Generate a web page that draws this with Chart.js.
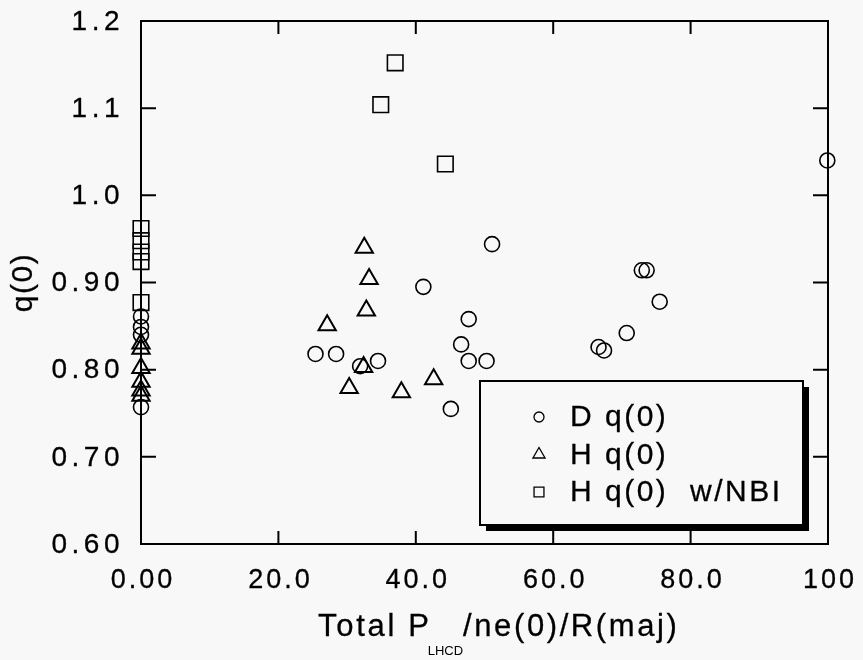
<!DOCTYPE html>
<html>
<head>
<meta charset="utf-8">
<script src="https://cdn.jsdelivr.net/npm/chart.js@4.4.1/dist/chart.umd.min.js"></script>
<style>
  html, body { margin: 0; padding: 0; background: #f8f8f8; }
  #wrap { width: 863px; height: 660px; }
</style>
</head>
<body>
<div id="wrap"><canvas id="myChart" width="863" height="660"></canvas></div>
<script>
'use strict'
// data
const dX = [0, 0, 0, 0, 25.4, 28.4, 31.9, 34.5, 41.1, 45.1, 46.6, 47.7, 47.7, 50.3, 51.1, 66.6, 67.4, 70.7, 72.9, 73.6, 75.5, 99.9];
const dY = [0.861, 0.849, 0.840, 0.757, 0.818, 0.818, 0.804, 0.810, 0.895, 0.755, 0.829, 0.858, 0.810, 0.810, 0.944, 0.826, 0.822, 0.842, 0.914, 0.914, 0.878, 1.040];

const hX = [0, 0, 0, 0, 0, 0, 27.1, 30.3, 32.4, 32.5, 32.8, 33.2, 37.9, 42.6];
const hY = [0.830, 0.824, 0.802, 0.786, 0.776, 0.770, 0.851, 0.779, 0.803, 0.940, 0.868, 0.904, 0.774, 0.789];

const nbiX = [0, 0, 0, 0, 0, 34.9, 37.0, 44.3];
const nbiY = [0.962, 0.948, 0.935, 0.924, 0.877, 1.104, 1.152, 1.036];

const xTicks = [0, 20, 40, 60, 80, 100];
const xTickLabels = ['0.00', '20.0', '40.0', '60.0', '80.0', '100'];
const yTicks = [0.6, 0.7, 0.8, 0.9, 1.0, 1.1, 1.2];
const yTickLabels = ['0.60', '0.70', '0.80', '0.90', '1.0', '1.1', '1.2'];

const seriesNames = ['D q(0)', 'H q(0)', 'H q(0)  w/NBI'];

function toPoints(xs, ys) {
  return xs.map((x, i) => ({ x: x, y: ys[i] }));
}

const FONT = '"Liberation Sans", Arial, sans-serif';

// text a bit heavier, like the scanned original
function heavyText(ctx, text, x, y) {
  ctx.fillText(text, x, y);
  ctx.strokeText(text, x, y);
}

// frame, inward ticks, tick labels, axis titles, legend
const framePlugin = {
  id: 'frame',
  beforeDatasetsDraw(chart) {
    const ctx = chart.ctx;
    const ca = chart.chartArea;
    const xs = chart.scales.x, ys = chart.scales.y;
    ctx.save();
    ctx.strokeStyle = '#000';
    ctx.lineWidth = 2;
    ctx.strokeRect(ca.left, ca.top, ca.right - ca.left, ca.bottom - ca.top);

    // ticks on all four sides, pointing in
    ctx.beginPath();
    xTicks.forEach(v => {
      const px = xs.getPixelForValue(v);
      ctx.moveTo(px, ca.bottom); ctx.lineTo(px, ca.bottom - 13);
      ctx.moveTo(px, ca.top); ctx.lineTo(px, ca.top + 13);
    });
    yTicks.forEach(v => {
      const py = ys.getPixelForValue(v);
      ctx.moveTo(ca.left, py); ctx.lineTo(ca.left + 15, py);
      ctx.moveTo(ca.right, py); ctx.lineTo(ca.right - 15, py);
    });
    ctx.stroke();

    // tick labels
    ctx.fillStyle = '#000';
    ctx.lineWidth = 0.3;
    ctx.textBaseline = 'middle';
    ctx.letterSpacing = '4.5px';
    ctx.font = '28px ' + FONT;
    ctx.textAlign = 'right';
    yTicks.forEach((v, i) => {
      heavyText(ctx, yTickLabels[i], ca.left - 17, ys.getPixelForValue(v) + 1);
    });
    ctx.letterSpacing = '3px';
    ctx.font = '27px ' + FONT;
    ctx.textAlign = 'center';
    xTicks.forEach((v, i) => {
      heavyText(ctx, xTickLabels[i], xs.getPixelForValue(v) + 2, ca.bottom + 37);
    });

    // y title
    ctx.letterSpacing = '1.5px';
    ctx.font = '30px ' + FONT;
    ctx.save();
    ctx.translate(24, (ca.top + ca.bottom) / 2);
    ctx.rotate(-Math.PI / 2);
    ctx.textAlign = 'center';
    heavyText(ctx, 'q(0)', 0, 0);
    ctx.restore();

    // x title with subscript
    const part1 = 'Total P', sub = 'LHCD', part2 = '/ne(0)/R(maj)';
    ctx.letterSpacing = '2.7px';
    ctx.font = '31px ' + FONT;
    const w1 = ctx.measureText(part1).width;
    ctx.letterSpacing = '0px';
    ctx.font = '13px ' + FONT;
    const w2 = ctx.measureText(sub).width;
    let tx = 318;
    const ty = ca.bottom + 83;
    ctx.textAlign = 'left';
    ctx.letterSpacing = '2.7px';
    ctx.font = '31px ' + FONT;
    heavyText(ctx, part1, tx, ty);
    tx += w1;
    ctx.letterSpacing = '0px';
    ctx.font = '13px ' + FONT;
    ctx.fillText(sub, tx - 4, ty + 24);
    tx += w2 - 4;
    ctx.letterSpacing = '2.6px';
    ctx.font = '31px ' + FONT;
    heavyText(ctx, part2, tx, ty);
    ctx.restore();
  },
  afterDatasetsDraw(chart) {
    const ctx = chart.ctx;
    const ca = chart.chartArea;
    const bx = ca.right - 348, by = ca.bottom - 163, bw = 323, bh = 144;
    ctx.save();
    // shadow
    ctx.fillStyle = '#000';
    ctx.fillRect(bx + 6, by + 6, bw, bh);
    ctx.fillStyle = '#f8f8f8';
    ctx.fillRect(bx, by, bw, bh);
    ctx.strokeStyle = '#000';
    ctx.lineWidth = 2;
    ctx.strokeRect(bx, by, bw, bh);

    ctx.textBaseline = 'middle';
    ctx.textAlign = 'left';
    chart.data.datasets.forEach((ds, i) => {
      const ly = by + 36 + i * 37.5;
      ctx.fillStyle = 'rgba(0,0,0,0)';
      ctx.strokeStyle = '#000';
      ctx.lineWidth = 1.3;
      Chart.helpers.drawPoint(ctx, {
        pointStyle: ds.pointStyle,
        radius: ds.legendRadius,
        borderWidth: 1.3,
        rotation: 0
      }, bx + 59, ly);
      ctx.fillStyle = '#000';
      ctx.lineWidth = 0.3;
      ctx.font = '30px ' + FONT;
      ctx.letterSpacing = '2.5px';
      heavyText(ctx, seriesNames[i], bx + 90, ly + 1);
    });
    ctx.restore();
  }
};

const ctx = document.getElementById('myChart').getContext('2d');
new Chart(ctx, {
  type: 'scatter',
  data: {
    datasets: [
      {
        label: seriesNames[0],
        data: toPoints(dX, dY),
        pointStyle: 'circle',
        pointRadius: 7.5,
        legendRadius: 5,
        borderColor: '#000',
        backgroundColor: 'rgba(0,0,0,0)',
        borderWidth: 1.6,
        clip: false
      },
      {
        label: seriesNames[1],
        data: toPoints(hX, hY),
        pointStyle: 'triangle',
        pointRadius: 10,
        legendRadius: 7,
        borderColor: '#000',
        backgroundColor: 'rgba(0,0,0,0)',
        borderWidth: 2,
        clip: false
      },
      {
        label: seriesNames[2],
        data: toPoints(nbiX, nbiY),
        pointStyle: 'rect',
        pointRadius: 11,
        legendRadius: 7,
        borderColor: '#000',
        backgroundColor: 'rgba(0,0,0,0)',
        borderWidth: 1.6,
        clip: false
      }
    ]
  },
  options: {
    responsive: false,
    animation: false,
    layout: { padding: { left: 0, top: 21, right: 35, bottom: 0 } },
    plugins: {
      legend: { display: false },
      tooltip: { enabled: false }
    },
    scales: {
      x: {
        type: 'linear',
        min: 0,
        max: 100,
        afterBuildTicks: (scale) => { scale.ticks = xTicks.map(v => ({ value: v })); },
        afterFit: (scale) => { scale.height = 116; },
        ticks: { display: false },
        grid: { display: false },
        border: { display: false }
      },
      y: {
        type: 'linear',
        min: 0.6,
        max: 1.2,
        afterBuildTicks: (scale) => { scale.ticks = yTicks.map(v => ({ value: v })); },
        afterFit: (scale) => { scale.width = 141; },
        ticks: { display: false },
        grid: { display: false },
        border: { display: false }
      }
    }
  },
  plugins: [framePlugin]
});
</script>
</body>
</html>
